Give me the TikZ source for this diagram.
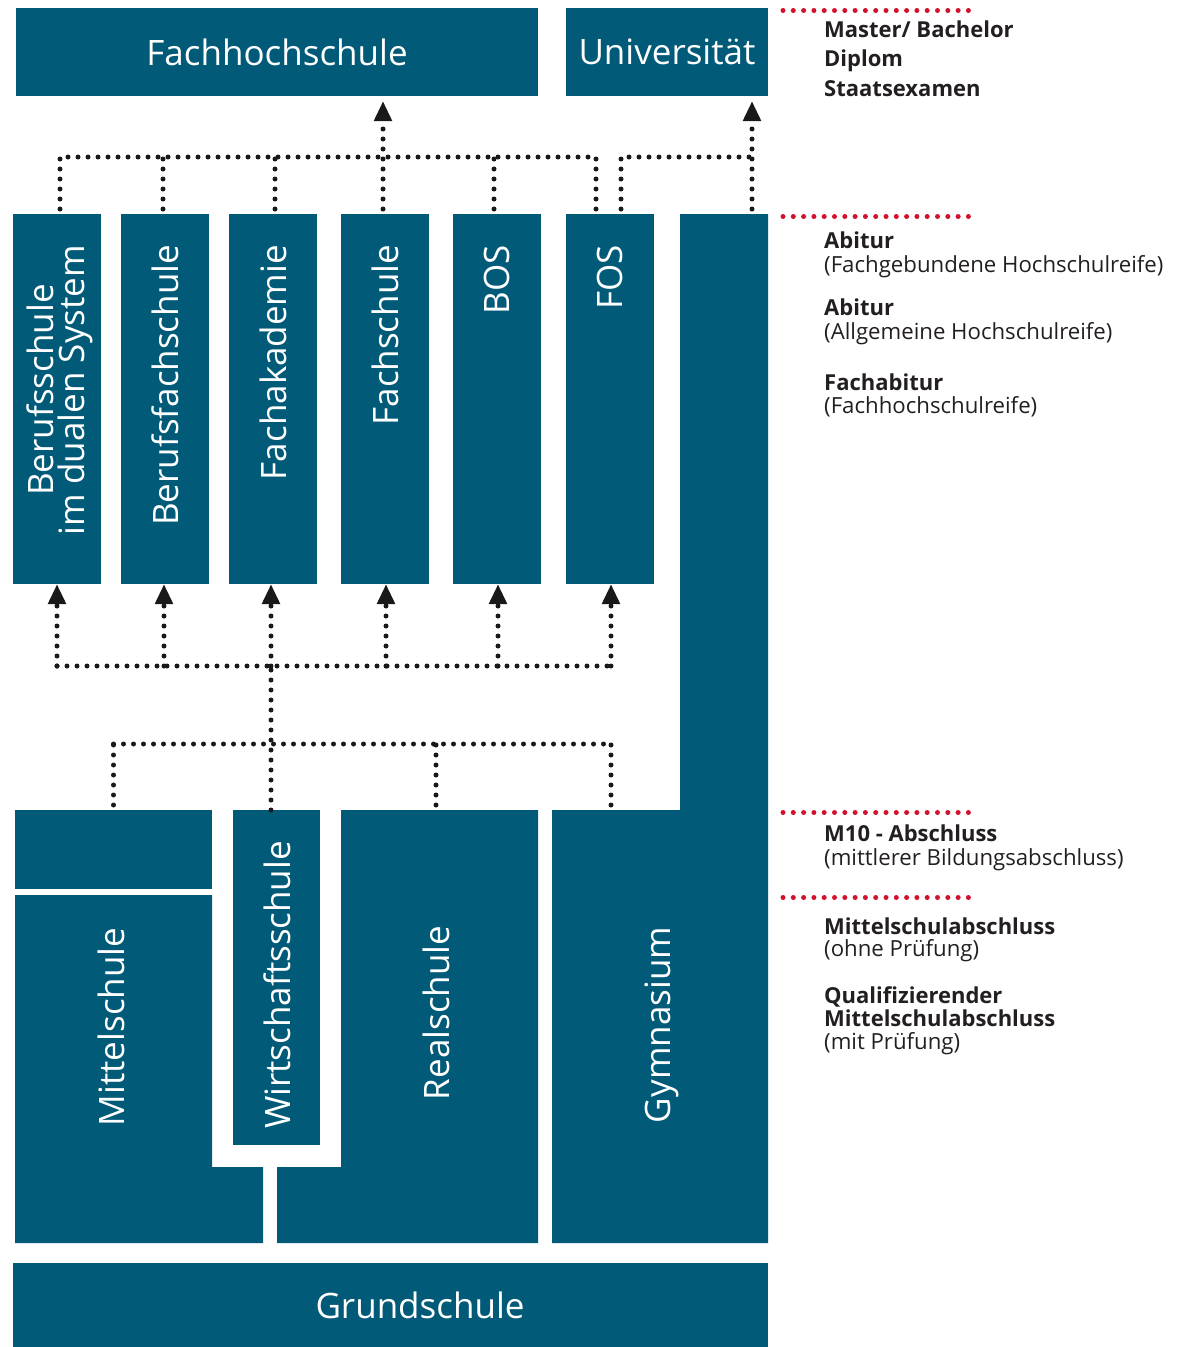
\documentclass[tikz,border=0pt]{standalone}
\usepackage{fontspec}
\setmainfont{Open Sans}
\usetikzlibrary{arrows.meta}
\definecolor{sblue}{HTML}{005A78}
\definecolor{dotred}{HTML}{D2112D}
\definecolor{txtc}{HTML}{231F20}
\newcommand\fBig{\fontsize{35}{37}\selectfont}
\newcommand\fMed{\fontsize{22}{24}\selectfont}
\newcommand\fSml{\fontsize{22.2}{24}\selectfont}
\tikzset{
  box/.style={fill=sblue, inner sep=0pt, outer sep=0pt, text=white, font=\fBig},
  lbl/.style={text=white, font=\fBig, inner sep=0pt, outer sep=0pt},
  dotline/.style={draw=black!90, line width=5pt, dash pattern=on 0pt off 10pt, line cap=round},
  tipu/.style={-{Triangle[width=17pt,length=20pt]}},
  reddots/.style={draw=dotred, line width=5pt, dash pattern=on 0pt off 10.3pt, line cap=round},
  hd/.style={anchor=base west, inner sep=0pt, font=\bfseries\fMed, text=txtc},
  sub/.style={anchor=base west, inner sep=0pt, font=\fSml, text=txtc},
}
\begin{document}
\begin{tikzpicture}[x=1pt,y=-1pt]
\useasboundingbox (0,0) rectangle (1184,1347);
% top row
\node[box, minimum width=522, minimum height=88] (fh) at (277,52) {Fachhochschule};
\node[box, minimum width=202, minimum height=88] (uni) at (667,52) {Universität};
% middle column boxes
\node[box, minimum width=88, minimum height=370] (b1) at (57,399) {};
\node[box, minimum width=88, minimum height=370] (b2) at (165,399) {};
\node[box, minimum width=88, minimum height=370] (b3) at (273,399) {};
\node[box, minimum width=88, minimum height=370] (b4) at (385,399) {};
\node[box, minimum width=88, minimum height=370] (b5) at (497,399) {};
\node[box, minimum width=88, minimum height=370] (b6) at (610,399) {};
\node[lbl, rotate=90, anchor=east, align=center] (l1) at (60,245) {Berufsschule\\[-6pt]im dualen System};
\node[lbl, rotate=90, anchor=east] (l2) at (165,245) {Berufsfachschule};
\node[lbl, rotate=90, anchor=east] (l3) at (273,245) {Fachakademie};
\node[lbl, rotate=90, anchor=east] (l4) at (385,245) {Fachschule};
\node[lbl, rotate=90, anchor=east] (l5) at (497,245) {BOS};
\node[lbl, rotate=90, anchor=east] (l6) at (610,245) {FOS};
% Gymnasium
\fill[sblue] (680,214) -- (768,214) -- (768,1243) -- (552,1243) -- (552,810) -- (680,810) -- cycle;
\node[lbl, rotate=90] (gym) at (662,1025) {Gymnasium};
\coordinate (gymtop) at (752,214);
\coordinate (gymL) at (611,810);
% Mittelschule
\node[box, minimum width=197, minimum height=79] (mst) at (113.5,849.5) {};
\fill[sblue] (15,895) -- (212,895) -- (212,1167) -- (263,1167) -- (263,1243) -- (15,1243) -- cycle;
\node[lbl, rotate=90] (ms) at (111,1027) {Mittelschule};
% Wirtschaftsschule
\node[box, minimum width=87, minimum height=335] (ws) at (276.5,977.5) {};
\node[lbl, rotate=90] (wsl) at (277,985) {Wirtschaftsschule};
% Realschule
\fill[sblue] (341,810) -- (538,810) -- (538,1243) -- (277,1243) -- (277,1167) -- (341,1167) -- cycle;
\node[lbl, rotate=90] (rs) at (436,1013) {Realschule};
\coordinate (realtop) at (436,810);
% Grundschule
\node[box, minimum width=755, minimum height=84] (gs) at (390.5,1305) {};
\node[lbl] (gsl) at (420,1305) {Grundschule};
% top connectors
\coordinate (jt) at (383,157);
\draw[dotline, shorten <=5pt] ([xshift=3pt]b1.north) -- ([xshift=3pt]b1.north |- jt) -- ([xshift=-14pt]b6.north |- jt) -- ([xshift=-14pt]b6.north);
\draw[dotline, shorten <=5pt] ([xshift=-2pt]b2.north) -- ([xshift=-2pt]b2.north |- jt);
\draw[dotline, shorten <=5pt] ([xshift=2pt]b3.north) -- ([xshift=2pt]b3.north |- jt);
\draw[dotline, shorten <=5pt] ([xshift=-3pt]b5.north) -- ([xshift=-3pt]b5.north |- jt);
\draw[dotline, tipu, shorten <=5pt, shorten >=5pt] ([xshift=-2pt]b4.north) -- ([xshift=-2pt]b4.north |- fh.south);
\draw[dotline, shorten <=5pt] ([xshift=11pt]b6.north) -- ([xshift=11pt]b6.north |- jt) -- (gymtop |- jt);
\draw[dotline, tipu, shorten <=5pt, shorten >=5pt] (gymtop) -- (gymtop |- uni.south);
% bottom connectors
\coordinate (jb) at (271,666);
\coordinate (jc) at (271,744);
\draw[dotline, tipu] (b1.south |- jb) -- (b1.south);
\draw[dotline, tipu] ([xshift=-1pt]b2.south |- jb) -- ([xshift=-1pt]b2.south);
\draw[dotline, tipu] ([xshift=-2pt]b3.south |- jb) -- ([xshift=-2pt]b3.south);
\draw[dotline, tipu] ([xshift=1pt]b4.south |- jb) -- ([xshift=1pt]b4.south);
\draw[dotline, tipu] ([xshift=1pt]b5.south |- jb) -- ([xshift=1pt]b5.south);
\draw[dotline, tipu] ([xshift=1pt]b6.south |- jb) -- ([xshift=1pt]b6.south);
\draw[dotline] (b1.south |- jb) -- ([xshift=1pt]b6.south |- jb);
\draw[dotline] ([xshift=-5.5pt]ws.north) -- (jb);
\draw[dotline] (mst.north |- jc) -- (gymL |- jc);
\draw[dotline, shorten <=5pt] (mst.north) -- (mst.north |- jc);
\draw[dotline, shorten <=5pt] (realtop) -- (realtop |- jc);
\draw[dotline, shorten <=5pt] (gymL) -- (gymL |- jc);
% right legend
\coordinate (r1) at (783,10.5);
\coordinate (r2) at (783,216.5);
\coordinate (r3) at (783,812.5);
\coordinate (r4) at (783,897.5);
\foreach \r in {r1,r2,r3,r4} \draw[reddots] (\r) -- ++(186,0);
\node[hd] (t1) at (824,37.7) {Master/ Bachelor};
\node[hd] (t2) at (824,66.7) {Diplom};
\node[hd] (t3) at (824,96.5) {Staatsexamen};
\node[hd] (t4) at (824,248.3) {Abitur};
\node[sub] (t5) at (824,272) {(Fachgebundene Hochschulreife)};
\node[hd] (t6) at (824,315) {Abitur};
\node[sub] (t7) at (824,339) {(Allgemeine Hochschulreife)};
\node[hd] (t8) at (824,390) {Fachabitur};
\node[sub] (t9) at (824,413) {(Fachhochschulreife)};
\node[hd] (t10) at (824,841.7) {M10 - Abschluss};
\node[sub] (t11) at (824,865) {(mittlerer Bildungsabschluss)};
\node[hd] (t12) at (824,934) {Mittelschulabschluss};
\node[sub] (t13) at (824,956.7) {(ohne Prüfung)};
\node[hd] (t14) at (824,1003) {Qualifizierender};
\node[hd] (t15) at (824,1026.7) {Mittelschulabschluss};
\node[sub] (t16) at (824,1049) {(mit Prüfung)};
\end{tikzpicture}
\end{document}
